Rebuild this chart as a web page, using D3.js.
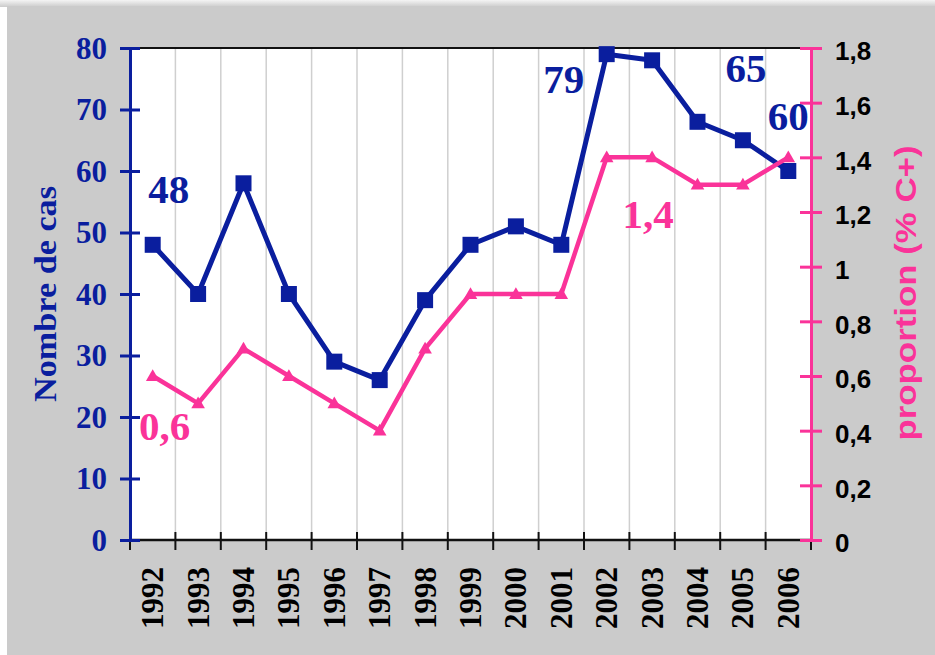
<!DOCTYPE html>
<html>
<head>
<meta charset="utf-8">
<script src="https://cdn.jsdelivr.net/npm/d3@7"></script>
<style>
  html, body { margin: 0; padding: 0; background: #fff; }
  svg { display: block; }
</style>
</head>
<body>
<svg id="chart"></svg>
<script>
const WIDTH = 935;
const HEIGHT = 655;

// Data
const years = ['1992', '1993', '1994', '1995', '1996', '1997', '1998', '1999',
  '2000', '2001', '2002', '2003', '2004', '2005', '2006'];
const cases = [48, 40, 58, 40, 29, 26, 39, 48, 51, 48, 79, 78, 68, 65, 60];
const proportion = [0.6, 0.5, 0.7, 0.6, 0.5, 0.4, 0.7, 0.9, 0.9, 0.9, 1.4, 1.4, 1.3, 1.3, 1.4];
const leftTicks = [0, 10, 20, 30, 40, 50, 60, 70, 80];
const rightTicks = [0, 0.2, 0.4, 0.6, 0.8, 1, 1.2, 1.4, 1.6, 1.8];
const casesLabels = [
  {year: '1992', text: '48'},
  {year: '2002', text: '79'},
  {year: '2005', text: '65'},
  {year: '2006', text: '60'}
];
const propLabels = [
  {year: '1992', text: '0,6'},
  {year: '2003', text: '1,4'}
];

const BLUE = '#0a1e9e';
const PINK = '#fa3399';
const SERIF = '"Liberation Serif", "Times New Roman", serif';
const SANS = '"Liberation Sans", Arial, sans-serif';

const margin = {top: 48, left: 130, right: 124, bottom: 115};
const plotW = WIDTH - margin.left - margin.right;
const plotH = HEIGHT - margin.top - margin.bottom;

const svg = d3.select('#chart')
  .attr('width', WIDTH)
  .attr('height', HEIGHT)
  .attr('viewBox', `0 0 ${WIDTH} ${HEIGHT}`);

// Gray panel behind everything
const defs = svg.append('defs');
const grad = defs.append('linearGradient').attr('id', 'topfade')
  .attr('x1', 0).attr('y1', 0).attr('x2', 0).attr('y2', 1);
grad.append('stop').attr('offset', 0).attr('stop-color', '#f4f4f4');
grad.append('stop').attr('offset', 1).attr('stop-color', '#cbcbcb');
svg.append('rect').attr('x', 0).attr('y', 0).attr('width', WIDTH).attr('height', 7)
  .attr('fill', 'url(#topfade)');
svg.append('rect').attr('x', 7).attr('y', 6).attr('width', WIDTH - 7).attr('height', HEIGHT - 6)
  .attr('fill', '#cbcbcb');

const g = svg.append('g').attr('transform', `translate(${margin.left},${margin.top})`);

const x = d3.scaleBand().domain(years).range([0, plotW]).paddingInner(0).paddingOuter(0);
const yLeft = d3.scaleLinear().domain([0, 80]).range([plotH, 0]);
const yRight = d3.scaleLinear().domain([0, 1.8]).range([plotH, 0]);
const cx = d => x(d) + x.bandwidth() / 2;

// Plot area
g.append('rect').attr('width', plotW).attr('height', plotH).attr('fill', '#fff');

// Vertical gridlines at category boundaries
g.selectAll('.grid')
  .data(years.slice(1))
  .join('line')
  .attr('class', 'grid')
  .attr('x1', d => x(d)).attr('x2', d => x(d))
  .attr('y1', 0).attr('y2', plotH)
  .attr('stroke', '#cfcfcf')
  .attr('stroke-width', 1.5);

// Top border
g.append('line').attr('x1', 0).attr('x2', plotW).attr('y1', 0).attr('y2', 0)
  .attr('stroke', '#111').attr('stroke-width', 2);

// X axis: line + boundary ticks
const boundaries = years.map(d => x(d)).concat([plotW]);
g.append('line').attr('x1', 0).attr('x2', plotW).attr('y1', plotH).attr('y2', plotH)
  .attr('stroke', '#111').attr('stroke-width', 2.5);
g.selectAll('.xtick')
  .data(boundaries)
  .join('line')
  .attr('class', 'xtick')
  .attr('x1', d => d).attr('x2', d => d)
  .attr('y1', plotH - 8).attr('y2', plotH + 10)
  .attr('stroke', '#111').attr('stroke-width', 2);

g.selectAll('.xlabel')
  .data(years)
  .join('text')
  .attr('class', 'xlabel')
  .attr('transform', d => `translate(${cx(d) + 10.5},${plotH + 27}) rotate(-90)`)
  .attr('text-anchor', 'end')
  .attr('font-family', SERIF)
  .attr('font-weight', 'bold')
  .attr('font-size', 31)
  .attr('fill', '#000')
  .text(d => d);

// Left axis
const leftAxis = g.append('g').call(
  d3.axisLeft(yLeft).tickValues(leftTicks).tickSizeInner(10).tickSizeOuter(0).tickPadding(12)
);
leftAxis.select('.domain').attr('stroke', BLUE).attr('stroke-width', 3);
leftAxis.selectAll('.tick line').attr('stroke', BLUE).attr('stroke-width', 3)
  .attr('x1', 10).attr('x2', -10);
leftAxis.selectAll('.tick text')
  .attr('fill', BLUE)
  .attr('font-family', SERIF)
  .attr('font-weight', 'bold')
  .attr('font-size', 31)
  .attr('x', -23)
  .attr('dy', '0.33em');

// Right axis
const rightAxis = g.append('g').attr('transform', `translate(${plotW},0)`).call(
  d3.axisRight(yRight).tickValues(rightTicks).tickSizeInner(11).tickSizeOuter(0)
    .tickFormat(d => d3.format('.1~f')(d).replace('.', ','))
);
rightAxis.select('.domain').attr('stroke', PINK).attr('stroke-width', 3);
rightAxis.selectAll('.tick line').attr('stroke', PINK).attr('stroke-width', 3)
  .attr('x1', -11).attr('x2', 11);
rightAxis.selectAll('.tick text')
  .attr('fill', '#000')
  .attr('font-family', SANS)
  .attr('font-weight', 'bold')
  .attr('font-size', 26)
  .attr('x', 24)
  .attr('dy', '0.45em');

// Axis titles
svg.append('text')
  .attr('transform', `translate(56,${margin.top + plotH / 2}) rotate(-90)`)
  .attr('text-anchor', 'middle')
  .attr('font-family', SERIF)
  .attr('font-weight', 'bold')
  .attr('font-size', 31)
  .attr('fill', BLUE)
  .attr('textLength', 216)
  .attr('lengthAdjust', 'spacingAndGlyphs')
  .text('Nombre de cas');

svg.append('text')
  .attr('transform', `translate(916,${margin.top + plotH / 2 - 1}) rotate(-90)`)
  .attr('text-anchor', 'middle')
  .attr('font-family', SANS)
  .attr('font-weight', 'bold')
  .attr('font-size', 30)
  .attr('fill', PINK)
  .attr('textLength', 295)
  .attr('lengthAdjust', 'spacingAndGlyphs')
  .text('proportion (% C+)');

// Cases series (blue, squares)
const casesLine = d3.line().x((d, i) => cx(years[i])).y(d => yLeft(d));
g.append('path')
  .datum(cases)
  .attr('d', casesLine)
  .attr('fill', 'none')
  .attr('stroke', BLUE)
  .attr('stroke-width', 5)
  .attr('stroke-linejoin', 'round');
g.selectAll('.sq')
  .data(cases)
  .join('rect')
  .attr('class', 'sq')
  .attr('x', (d, i) => cx(years[i]) - 8)
  .attr('y', d => yLeft(d) - 8)
  .attr('width', 16).attr('height', 16)
  .attr('fill', BLUE);

// Proportion series (pink, triangles)
const propLine = d3.line().x((d, i) => cx(years[i])).y(d => yRight(d));
g.append('path')
  .datum(proportion)
  .attr('d', propLine)
  .attr('fill', 'none')
  .attr('stroke', PINK)
  .attr('stroke-width', 4.5)
  .attr('stroke-linejoin', 'round');
const tri = d3.symbol().type(d3.symbolTriangle).size(80);
g.selectAll('.tri')
  .data(proportion)
  .join('path')
  .attr('class', 'tri')
  .attr('transform', (d, i) => `translate(${cx(years[i])},${yRight(d) + 1})`)
  .attr('d', tri)
  .attr('fill', PINK);

// Value annotations (offsets from the anchoring point, in px)
const casesOffsets = {'1992': [16, -42], '2002': [-43, 39], '2005': [3, -58], '2006': [0, -41]};
g.selectAll('.clab')
  .data(casesLabels)
  .join('text')
  .attr('class', 'clab')
  .attr('x', d => cx(d.year) + casesOffsets[d.year][0])
  .attr('y', d => yLeft(cases[years.indexOf(d.year)]) + casesOffsets[d.year][1])
  .attr('text-anchor', 'middle')
  .attr('font-family', SERIF)
  .attr('font-weight', 'bold')
  .attr('font-size', 41)
  .attr('fill', BLUE)
  .text(d => d.text);

const propOffsets = {'1992': [12, 64], '2003': [-4, 71]};
g.selectAll('.plab')
  .data(propLabels)
  .join('text')
  .attr('class', 'plab')
  .attr('x', d => cx(d.year) + propOffsets[d.year][0])
  .attr('y', d => yRight(proportion[years.indexOf(d.year)]) + propOffsets[d.year][1])
  .attr('text-anchor', 'middle')
  .attr('font-family', SERIF)
  .attr('font-weight', 'bold')
  .attr('font-size', 41)
  .attr('fill', PINK)
  .text(d => d.text);
</script>
</body>
</html>
